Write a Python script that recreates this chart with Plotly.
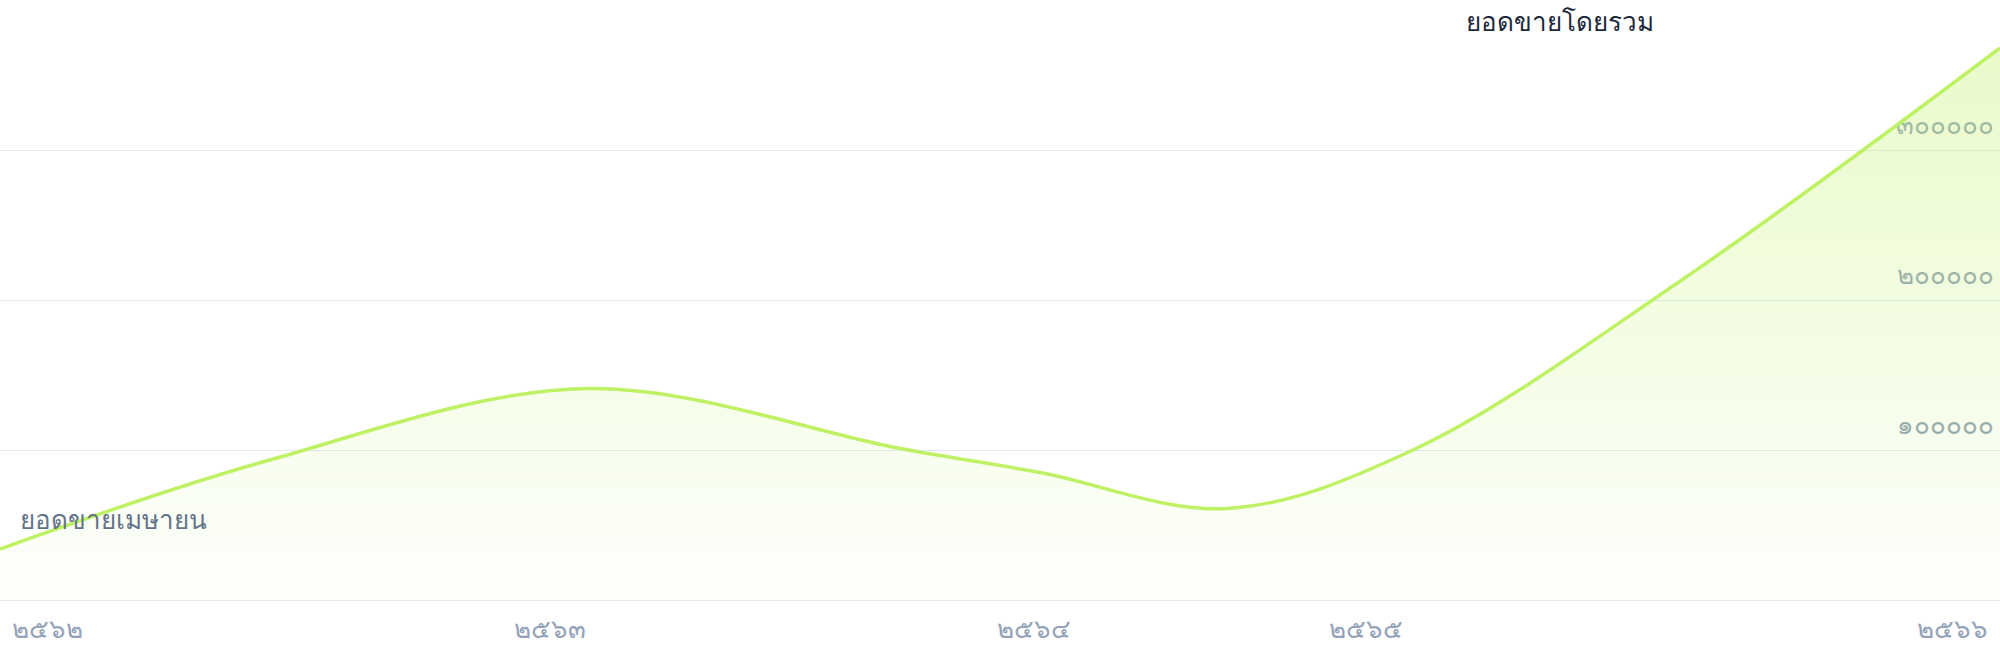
import plotly.graph_objects as go

# sales series, values (baht)
period = [0, 13.4, 29.35, 45, 52, 61.35, 70.65, 84.05, 100]
sales = [34000, 93000, 141000, 101000, 85000, 61000, 100000, 213000, 368000]

# axis labels (Thai)
year_pos = [2.35, 27.5, 51.7, 68.3, 97.6]
year_labels = ["๒๕๖๒", "๒๕๖๓", "๒๕๖๔", "๒๕๖๕", "๒๕๖๖"]
amount_vals = [100000, 200000, 300000]
amount_labels = ["๑๐๐๐๐๐", "๒๐๐๐๐๐", "๓๐๐๐๐๐"]

title_text = "ยอดขายโดยรวม"
note_text = "ยอดขายเมษายน"

FONT = 26

fig = go.Figure()
fig.add_trace(go.Scatter(
    x=period, y=sales,
    mode="lines",
    line=dict(color="#bef264", width=3.5, shape="spline", smoothing=1),
    fill="tozeroy",
    fillgradient=dict(
        type="vertical",
        colorscale=[[0, "rgba(190,242,100,0.02)"], [1, "rgba(190,242,100,0.34)"]],
    ),
    hoverinfo="skip",
    showlegend=False,
))

fig.add_annotation(
    text=note_text, xref="paper", x=0.009, xanchor="left",
    yref="y", y=54000, yanchor="middle", showarrow=False,
    font=dict(size=FONT, color="#64748b"),
)

fig.update_layout(
    width=2000, height=660,
    margin=dict(l=0, r=0, t=0, b=60),
    paper_bgcolor="white", plot_bgcolor="white",
    title=dict(text=title_text, x=0.78, xanchor="center", y=1 - 22 / 660, yanchor="middle",
               font=dict(size=FONT, color="#1e293b")),
    xaxis=dict(
        range=[0, 100], tickmode="array", tickvals=year_pos, ticktext=year_labels,
        showgrid=False, zeroline=False, showline=True, linecolor="#e2e8f0", linewidth=1,
        ticks="", tickfont=dict(size=FONT, color="#94a3b8"), ticklabelstandoff=6,
    ),
    # y labels drawn from a free axis sitting on the right edge, pointing into the plot
    yaxis=dict(
        range=[0, 400000], tickmode="array", tickvals=amount_vals, ticktext=amount_labels,
        anchor="free", position=1, side="left", ticklabelposition="outside top",
        layer="below traces",
        showgrid=True, gridcolor="#e2e8f0", gridwidth=1, zeroline=False, showline=False,
        ticks="", tickfont=dict(size=FONT, color="#94a3b8"),
        ticklabelshift=-7, ticklabelstandoff=6,
    ),
)

fig.write_html("out.html", config={"displayModeBar": False},
               post_script="document.body.style.margin='0';")
